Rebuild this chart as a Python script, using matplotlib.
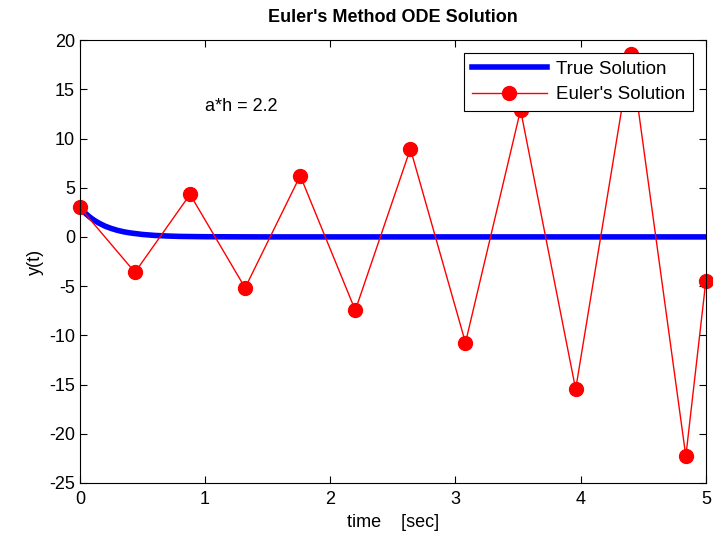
import matplotlib.pyplot as plt

plt.rcParams["font.family"] = ["Liberation Sans", "DejaVu Sans"]
plt.rcParams["axes.unicode_minus"] = False

# true solution, sampled
t_true = [0, 0.025, 0.05, 0.075, 0.1, 0.125, 0.15, 0.2, 0.25, 0.3, 0.35, 0.4, 0.5, 0.6, 0.7, 0.8, 1.0, 1.2, 1.5, 2.0, 5.0]
y_true = [3.0, 2.65, 2.34, 2.06, 1.82, 1.61, 1.42, 1.10, 0.86, 0.67, 0.52, 0.41, 0.25, 0.15, 0.09, 0.05, 0.02, 0.01, 0.0, 0.0, 0.0]

# euler steps
t_euler = [0, 0.44, 0.88, 1.32, 1.76, 2.2, 2.64, 3.08, 3.52, 3.96, 4.4, 4.84, 5.0]
y_euler = [3.0, -3.6, 4.32, -5.18, 6.22, -7.46, 8.96, -10.75, 12.9, -15.48, 18.58, -22.29, -4.46]

fig = plt.figure(figsize=(7.13, 5.42), dpi=100)
ax = fig.add_axes([0.112, 0.109, 0.878, 0.817])

ax.plot(t_true, y_true, color="blue", linewidth=4, label="True Solution")
ax.plot(t_euler, y_euler, color="red", linewidth=1, marker="o", markersize=10,
        label="Euler's Solution", clip_on=False)

ax.set_xlim(0, 5)
ax.set_ylim(-25, 20)
ax.set_xticks(range(0, 6))
ax.set_yticks(range(-25, 21, 5))
ax.tick_params(direction="in", length=5, labelsize=13, top=True, right=True)
ax.tick_params(axis="x", pad=6)

ax.text(1.0, 13.3, "a*h = 2.2", fontsize=13, va="center")

ax.set_title("Euler's Method ODE Solution", fontsize=13, fontweight="bold", pad=13)
ax.set_xlabel("time    [sec]", fontsize=13)
ax.set_ylabel("y(t)", fontsize=13)

leg = ax.legend(loc="upper right", fontsize=13.5, fancybox=False, framealpha=1,
                edgecolor="black", borderaxespad=0.7, borderpad=0.4,
                labelspacing=0.45, handlelength=4, handletextpad=0.5)
leg.get_frame().set_linewidth(0.8)
leg.set_zorder(5)

plt.savefig("out.png")
